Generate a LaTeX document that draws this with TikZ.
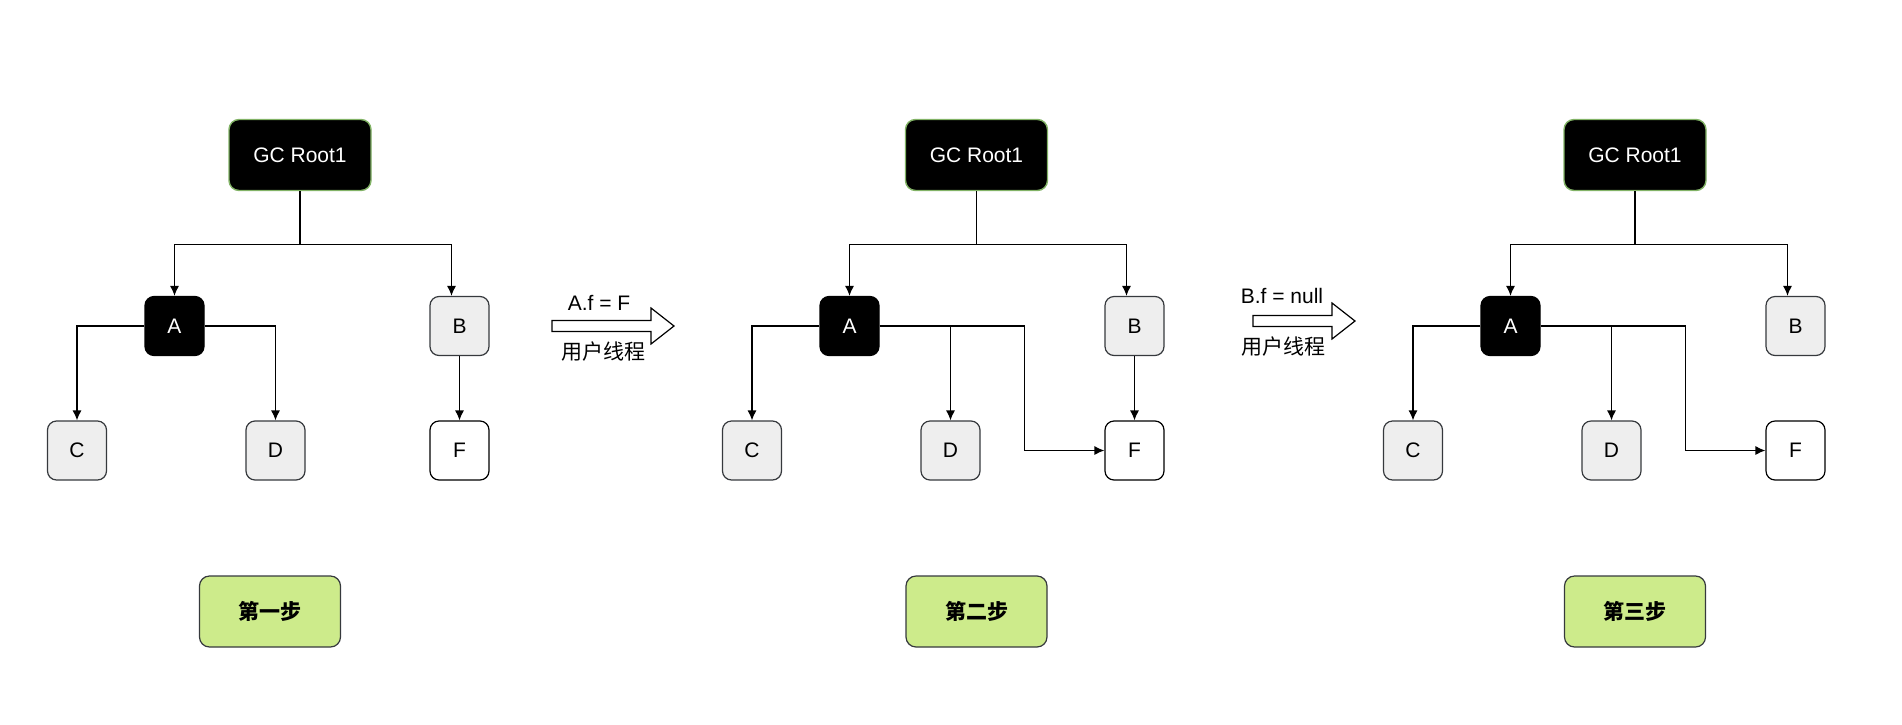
\documentclass[tikz,border=0pt]{standalone}
\usepackage{fontspec}
\setmainfont{Liberation Sans}
\newfontfamily\cjk{Noto Sans CJK SC}
\usetikzlibrary{positioning, arrows.meta}

\definecolor{rootline}{HTML}{82B366}
\definecolor{boxfill}{HTML}{EEEEEE}
\definecolor{boxline}{HTML}{36393D}
\definecolor{stepfill}{HTML}{CDEB8B}

\tikzset{
  obj/.style={rectangle, rounded corners=4.5pt, line width=0.6pt, minimum size=29.5pt, inner sep=0pt},
  objblack/.style={obj, fill=black, draw=black, text=white},
  objgray/.style={obj, fill=boxfill, draw=boxline},
  objwhite/.style={obj, fill=white, draw=black},
  root/.style={rectangle, rounded corners=5pt, line width=0.7pt, fill=black, draw=rootline, text=white,
    minimum width=71pt, minimum height=35.5pt},
  steplabel/.style={rectangle, rounded corners=5pt, line width=0.6pt, fill=stepfill, draw=boxline,
    minimum width=70.5pt, minimum height=35.5pt, font=\cjk\bfseries\fontsize{10.5pt}{12pt}\selectfont},
  ref/.style={-{Latex[length=5pt, width=4.5pt]}, line width=0.6pt},
  userop/.style={fill=white, line width=0.6pt}
}

\begin{document}
\begin{tikzpicture}[x=0.5pt, y=-0.5pt, every node/.append style={font=\fontsize{10.5pt}{12pt}\selectfont}]
  \useasboundingbox (0,0) rectangle (1902,724);

  \node(r1)[root] at (300,155) {GC Root1};
  \node(a1)[objblack] at (174.5,326) {A};
  \node(b1)[objgray] at (459.5,326) {B};
  \node(c1)[objgray] at (77,450.5) {C};
  \node(d1)[objgray] at (275.5,450.5) {D};
  \node(f1)[objwhite] at (459.5,450.5) {F};
  \node(s1)[steplabel] at (270,611.5) {第一步};

  \draw[ref] (r1.south) -- ++(0,53) -| (a1.north);
  \draw[ref] (r1.south) -- ++(0,53) -| ([xshift=-4pt]b1.north);
  \draw[ref] (a1.west) -| (c1.north);
  \draw[ref] (a1.east) -| (d1.north);
  \draw[ref] (b1) -- (f1);

  \draw[userop] (552,320.5) -- (651,320.5) -- (651,308) -- (674,326) -- (651,344) -- (651,331.5) -- (552,331.5) -- cycle;
  \node(op1) at (599,303) {A.f = F};
  \node(th1) at (603,352) {\cjk 用户线程};

  \node(r2)[root] at (976.5,155) {GC Root1};
  \node(a2)[objblack] at (849.5,326) {A};
  \node(b2)[objgray] at (1134.5,326) {B};
  \node(c2)[objgray] at (752,450.5) {C};
  \node(d2)[objgray] at (950.5,450.5) {D};
  \node(f2)[objwhite] at (1134.5,450.5) {F};
  \node(s2)[steplabel] at (976.5,611.5) {第二步};
  \coordinate[left=40pt of f2.west] (k2);

  \draw[ref] (r2.south) -- ++(0,53) -| (a2.north);
  \draw[ref] (r2.south) -- ++(0,53) -| ([xshift=-4pt]b2.north);
  \draw[ref] (a2.west) -| (c2.north);
  \draw[ref] (a2.east) -| (d2.north);
  \draw[ref] (a2.east) -| (k2) -- (f2.west);
  \draw[ref] (b2) -- (f2);

  \draw[userop] (1253,315.5) -- (1332,315.5) -- (1332,303) -- (1355,321) -- (1332,339) -- (1332,326.5) -- (1253,326.5) -- cycle;
  \node(op2) at (1282,296) {B.f = null};
  \node(th2) at (1283,347) {\cjk 用户线程};

  \node(r3)[root] at (1635,155) {GC Root1};
  \node(a3)[objblack] at (1510.5,326) {A};
  \node(b3)[objgray] at (1795.5,326) {B};
  \node(c3)[objgray] at (1413,450.5) {C};
  \node(d3)[objgray] at (1611.5,450.5) {D};
  \node(f3)[objwhite] at (1795.5,450.5) {F};
  \node(s3)[steplabel] at (1635,611.5) {第三步};
  \coordinate[left=40pt of f3.west] (k3);

  \draw[ref] (r3.south) -- ++(0,53) -| (a3.north);
  \draw[ref] (r3.south) -- ++(0,53) -| ([xshift=-4pt]b3.north);
  \draw[ref] (a3.west) -| (c3.north);
  \draw[ref] (a3.east) -| (d3.north);
  \draw[ref] (a3.east) -| (k3) -- (f3.west);
\end{tikzpicture}
\end{document}
